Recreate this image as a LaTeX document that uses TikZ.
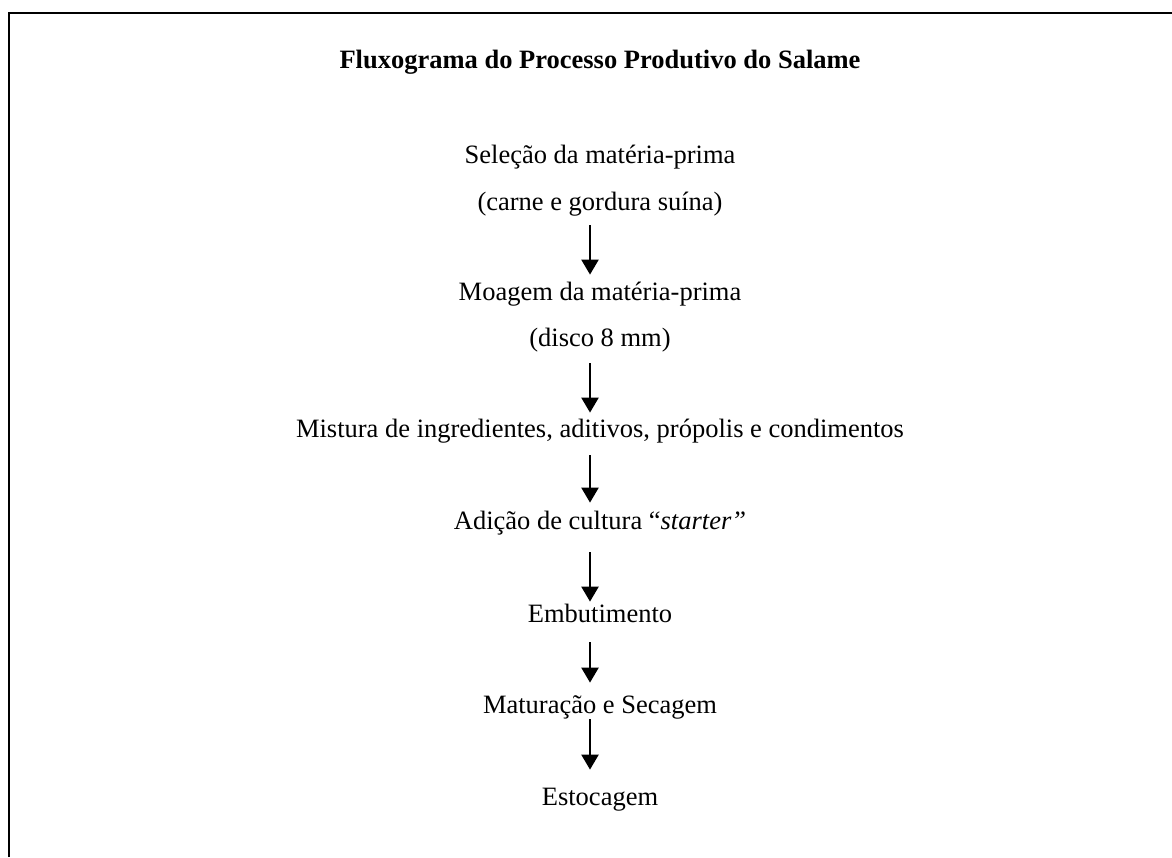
\documentclass[tikz,border=0pt]{standalone}
\usepackage{fontspec}
\setmainfont{Liberation Serif}
\usetikzlibrary{arrows.meta}

\begin{document}
\begin{tikzpicture}[x=0.5pt,y=-0.5pt]
	\tikzset{every node/.style={inner sep=0pt,anchor=base,font=\fontsize{13.25}{16}\selectfont,text height=9pt,text depth=3pt}}
	\tikzset{titulo/.style={font=\fontsize{13.25}{16}\selectfont\bfseries}}
	\tikzset{seta/.style={line width=1.2pt,-{Triangle[width=8.5pt,length=7.5pt]}}}
	\useasboundingbox (0,0) rectangle (1172,857);
	\draw[line width=1.3pt] (9,857) -- (9,13) -- (1172,13);
	\node[titulo] (tit) at (600,68) {Fluxograma do Processo Produtivo do Salame};
	\node (sel1) at (600,163) {Seleção da matéria-prima};
	\node (sel2) at (600,210) {(carne e gordura suína)};
	\node (moa1) at (600,300) {Moagem da matéria-prima};
	\node (moa2) at (600,346) {(disco 8 mm)};
	\node (mis) at (600,437) {Mistura de ingredientes, aditivos, própolis e condimentos};
	\node (adi) at (600,529) {Adição de cultura “\textit{starter”}};
	\node (emb) at (600,622) {Embutimento};
	\node (mat) at (600,713) {Maturação e Secagem};
	\node (est) at (600,805) {Estocagem};
	%\draw[seta] (sel2) -- (moa1);
	\foreach \de/\para/\a/\b in {sel2/moa1/4.5pt/3.5pt,moa2/mis/5.5pt/3pt,mis/adi/6pt/4pt,adi/emb/8.5pt/1pt,emb/mat/7pt/6pt,mat/est/0pt/8.5pt}
		\draw[seta,shorten <=\a,shorten >=\b] ([xshift=-5pt]\de.south) -- ([xshift=-5pt]\para.north);
\end{tikzpicture}
\end{document}
